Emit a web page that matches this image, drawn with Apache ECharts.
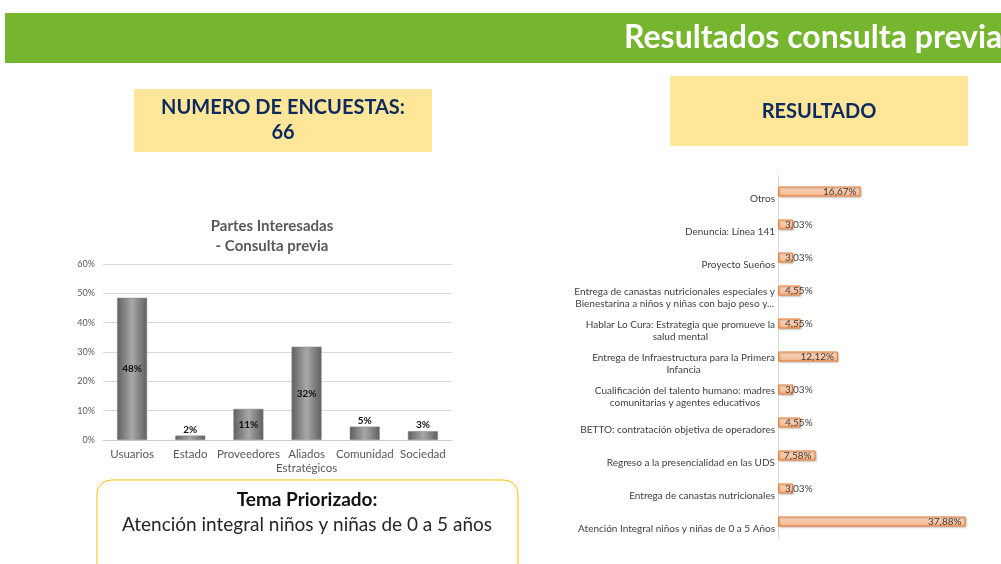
<!DOCTYPE html>
<html>
<head>
<meta charset="utf-8">
<script src="https://cdn.jsdelivr.net/npm/echarts@6/dist/echarts.min.js"></script>
<style>
  html, body { margin: 0; padding: 0; background: #fff; }
  #main { width: 1001px; height: 564px; }
</style>
</head>
<body>
<div id="main"></div>
<script>
// Partes interesadas (left chart), % of 66 surveys
const partes = ['Usuarios', 'Estado', 'Proveedores', 'Aliados\nEstratégicos', 'Comunidad', 'Sociedad']
const partesValues = [48.48, 1.52, 10.61, 31.82, 4.55, 3.03]
const partesTicks = [0, 10, 20, 30, 40, 50, 60]

// Resultado (right chart), listed bottom to top as ECharts draws a category y axis
const temas = [
  'Atención Integral niños y niñas de 0 a 5 Años',
  'Entrega de canastas nutricionales',
  'Regreso a la presencialidad en las UDS',
  'BETTO: contratación objetiva de operadores',
  'Cualificación del talento humano: madres\ncomunitarias y agentes educativos',
  'Entrega de Infraestructura para la Primera\nInfancia',
  'Hablar Lo Cura: Estrategia que promueve la\nsalud mental',
  'Entrega de canastas nutricionales especiales y\nBienestarina a niños y niñas con bajo peso y...',
  'Proyecto Sueños',
  'Denuncia: Línea 141',
  'Otros'
]
const temasValues = [37.88, 3.03, 7.58, 4.55, 3.03, 12.12, 4.55, 4.55, 3.03, 3.03, 16.67]

const FONT = 'Lato'
const chart = echarts.init(document.getElementById('main'))

const grayBar = new echarts.graphic.LinearGradient(0, 0, 1, 0, [
  { offset: 0, color: '#5f5f5f' },
  { offset: 0.5, color: '#a8a8a8' },
  { offset: 1, color: '#5f5f5f' }
])
const peachBar = new echarts.graphic.LinearGradient(0, 0, 0, 1, [
  { offset: 0, color: '#fcdcc6' },
  { offset: 1, color: '#f6b48a' }
])

chart.setOption({
  textStyle: { fontFamily: FONT },
  animation: false,
  title: [
    {
      text: 'Partes Interesadas\n- Consulta previa',
      left: 267, top: 211, textAlign: 'center',
      textStyle: { fontFamily: FONT, fontSize: 15, fontWeight: 'bold', color: '#595959', lineHeight: 20 }
    }
  ],
  graphic: [
    { type: 'rect', shape: { x: 5, y: 13, width: 996, height: 50 }, style: { fill: '#76b52e' } },
    {
      type: 'text', x: 624, y: 38,
      style: { text: 'Resultados consulta previa', fill: '#fff', font: 'bold 32px ' + FONT, textVerticalAlign: 'middle' }
    },
    { type: 'rect', shape: { x: 134, y: 89, width: 298, height: 63 }, style: { fill: '#ffe699' } },
    {
      type: 'text', x: 283, y: 120,
      style: {
        text: 'NUMERO DE ENCUESTAS:\n66', fill: '#0c2a5d', font: 'bold 20px ' + FONT,
        textAlign: 'center', textVerticalAlign: 'middle', lineHeight: 25
      }
    },
    { type: 'rect', shape: { x: 670, y: 76, width: 298, height: 70 }, style: { fill: '#ffe699' } },
    {
      type: 'text', x: 819, y: 112,
      style: { text: 'RESULTADO', fill: '#0c2a5d', font: 'bold 20px ' + FONT, textAlign: 'center', textVerticalAlign: 'middle' }
    },
    {
      type: 'rect', shape: { x: 97, y: 480, width: 421, height: 110, r: 14 },
      style: { fill: 'none', stroke: '#ffc000', lineWidth: 1 }
    },
    {
      type: 'text', x: 307, y: 500,
      style: { text: 'Tema Priorizado:', fill: '#111', font: 'bold 19px ' + FONT, textAlign: 'center', textVerticalAlign: 'middle' }
    },
    {
      type: 'text', x: 307, y: 525,
      style: { text: 'Atención integral niños y niñas de 0 a 5 años', fill: '#262626', font: '19px ' + FONT, textAlign: 'center', textVerticalAlign: 'middle' }
    }
  ],
  grid: [
    { left: 103, top: 264, width: 349, height: 176, containLabel: false },
    { left: 778, top: 175, width: 198, height: 363, containLabel: false }
  ],
  xAxis: [
    {
      gridIndex: 0, type: 'category', data: partes,
      axisTick: { show: false },
      axisLine: { lineStyle: { color: '#d0d0d0' } },
      axisLabel: { color: '#595959', fontSize: 11.5, margin: 7, lineHeight: 14, interval: 0 }
    },
    {
      gridIndex: 1, type: 'value', min: 0, max: 40,
      show: false
    }
  ],
  yAxis: [
    {
      gridIndex: 0, type: 'value', min: partesTicks[0], max: partesTicks[partesTicks.length - 1], interval: 10,
      axisLabel: { color: '#595959', fontSize: 9, formatter: '{value}%', margin: 8 },
      splitLine: { lineStyle: { color: '#d9d9d9' } },
      axisLine: { show: false }, axisTick: { show: false }
    },
    {
      gridIndex: 1, type: 'category', data: temas,
      axisTick: { show: false },
      axisLine: { lineStyle: { color: '#d9d9d9' } },
      axisLabel: {
        color: '#404040', fontSize: 10, margin: 3, interval: 0,
        // Excel draws the labels a little below the bars: a blank spacer line pushes them down
        formatter: t => '{s|}\n' + t.split('\n').map(l => '{t|' + l + '}').join('\n'),
        rich: {
          s: { height: 14, fontSize: 1 },
          t: { color: '#404040', fontSize: 10, lineHeight: 12, align: 'center' }
        }
      }
    }
  ],
  series: [
    {
      type: 'bar', xAxisIndex: 0, yAxisIndex: 0,
      data: partesValues.map(v => ({
        value: v,
        label: { position: v > 8 ? 'inside' : 'top', distance: 1 }
      })),
      barWidth: 30,
      itemStyle: { color: grayBar, borderColor: '#8a8a8a', borderWidth: 0.5 },
      label: {
        show: true, color: '#111', fontSize: 10, fontWeight: 'bold',
        formatter: p => Math.round(p.value) + '%'
      }
    },
    {
      type: 'bar', xAxisIndex: 1, yAxisIndex: 1,
      data: temasValues.map(v => ({
        value: v,
        label: v > 7 ? { position: 'insideRight', distance: 4 } : { position: 'insideLeft', distance: 7 }
      })),
      barWidth: 10,
      itemStyle: {
        color: peachBar, borderColor: '#ed7d31', borderWidth: 1,
        shadowColor: 'rgba(0,0,0,0.25)', shadowBlur: 2, shadowOffsetX: 1, shadowOffsetY: 1
      },
      label: {
        show: true, color: '#404040', fontSize: 10,
        formatter: p => p.value.toFixed(2).replace('.', ',') + '%'
      }
    }
  ]
})
</script>
</body>
</html>
